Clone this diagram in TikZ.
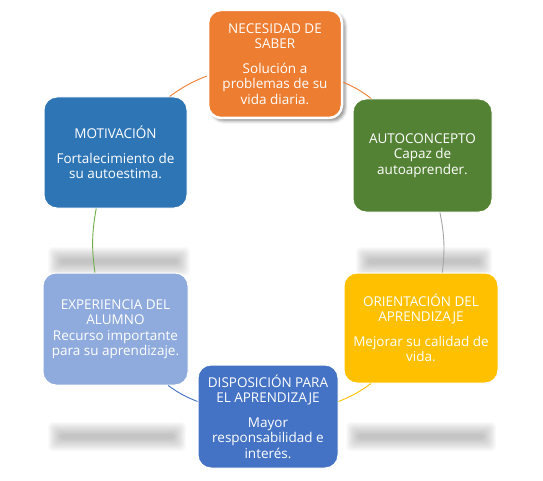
\documentclass[tikz,border=0pt]{standalone}
\usepackage{fontspec}
\setmainfont{Open Sans}
\usetikzlibrary{shadows.blur}
\definecolor{needorange}{HTML}{ED7D31}
\definecolor{selfgreen}{HTML}{548235}
\definecolor{motivblue}{HTML}{2E75B6}
\definecolor{experblue}{HTML}{8FAADC}
\definecolor{dispoblue}{HTML}{4472C4}
\definecolor{orientgold}{HTML}{FFC000}
\definecolor{linkgray}{HTML}{A5A5A5}
\definecolor{linkgreen}{HTML}{70AD47}

\begin{document}
\begin{tikzpicture}[x=1pt,y=1pt]
      \tikzstyle{stage}=[rectangle,rounded corners=13pt,draw=white,line width=1pt,text=white,align=center,inner sep=2pt,font=\fontsize{13.5}{15.5}\selectfont]
      \tikzstyle{link}=[line width=0.9pt,bend left=7]

      \useasboundingbox (0,0) rectangle (543,480);

      % soft reflections under the boxes
      \foreach \xa/\ya/\xb/\yb in {60/216/178/221, 368/216/480/221, 60/41/174/46, 358/41/484/46}
        \foreach \k in {0,...,12}
          \fill[black,opacity=0.021,rounded corners=4pt] (\xa-\k,\ya-\k) rectangle (\xb+\k,\yb+\k);

      \node[stage,fill=needorange,minimum width=134pt,minimum height=108pt,line width=2.5pt,
        blur shadow={shadow xshift=3pt,shadow yshift=-3pt,shadow blur radius=3pt,shadow opacity=45}](need) at (275,416)
        {NECESIDAD DE\\ SABER\\[9pt] Solución a\\ problemas de su\\ vida diaria.};
      \node[stage,fill=selfgreen,minimum width=139pt,minimum height=113pt](self) at (422.5,324.5)
        {AUTOCONCEPTO\\ Capaz de\\ autoaprender.};
      \node[stage,fill=orientgold,minimum width=154pt,minimum height=110pt](orient) at (421,152)
        {ORIENTACIÓN DEL\\ APRENDIZAJE\\[9pt] Mejorar su calidad de\\ vida.};
      \node[stage,fill=dispoblue,minimum width=140pt,minimum height=103pt](dispo) at (268,63.5)
        {DISPOSICIÓN PARA\\ EL APRENDIZAJE\\[9pt] Mayor\\ responsabilidad e\\ interés.};
      \node[stage,fill=experblue,minimum width=145pt,minimum height=112pt](exper) at (115.5,151)
        {EXPERIENCIA DEL\\ ALUMNO\\ Recurso importante\\ para su aprendizaje.};
      \node[stage,fill=motivblue,minimum width=143pt,minimum height=111pt](motiv) at (115.5,327.5)
        {MOTIVACIÓN\\[9pt] Fortalecimiento de\\ su autoestima.};

      \path
      (need.345) edge[link,draw=needorange] (self.132)
      (self.287) edge[link,draw=linkgray,bend left=9] (orient.69)
      (orient.228) edge[link,draw=orientgold] (dispo.12)
      (dispo.168) edge[link,draw=dispoblue] (exper.313)
      (exper.110) edge[link,draw=linkgreen,bend left=9] (motiv.251)
      (motiv.46) edge[link,draw=needorange] (need.190);
    \end{tikzpicture}
\end{document}
